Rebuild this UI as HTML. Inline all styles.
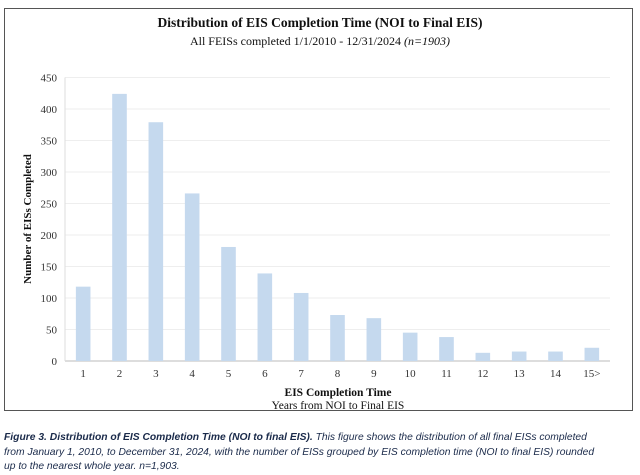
<!DOCTYPE html>
<html><head><meta charset="utf-8"><style>
body{margin:0;background:#fff;width:640px;height:470px;overflow:hidden;position:relative;font-family:"Liberation Serif",serif}
.frame{position:absolute;left:4px;top:8px;width:629px;height:403px;border:1.5px solid #555;box-sizing:border-box}
.cap{position:absolute;left:4px;top:431px;width:640px;font-family:"Liberation Sans",sans-serif;font-style:italic;font-size:10.3px;line-height:14.5px;color:#1a2a4a;white-space:nowrap}
</style></head><body>
<div class="frame"></div>
<svg width="640" height="470" style="position:absolute;left:0;top:0">
<text x="320" y="27" text-anchor="middle" font-weight="bold" font-size="13.5" fill="#111">Distribution of EIS Completion Time (NOI to Final EIS)</text>
<text x="320" y="45" text-anchor="middle" font-size="12" fill="#111">All FEISs completed 1/1/2010 - 12/31/2024 <tspan font-style="italic">(n=1903)</tspan></text>
<g id="grid"></g><g id="bars"></g><g id="ticks"></g>
<text transform="translate(31,219) rotate(-90)" text-anchor="middle" font-weight="bold" font-size="11" fill="#111">Number of EISs Completed</text>
<text x="338" y="396" text-anchor="middle" font-weight="bold" font-size="11.5" fill="#111">EIS Completion Time</text>
<text x="338" y="409" text-anchor="middle" font-size="11.5" fill="#111">Years from NOI to Final EIS</text>
</svg>
<div class="cap"><b>Figure 3. Distribution of EIS Completion Time (NOI to final EIS).</b> This figure shows the distribution of all final EISs completed<br>from January 1, 2010, to December 31, 2024, with the number of EISs grouped by EIS completion time (NOI to final EIS) rounded<br>up to the nearest whole year. n=1,903.</div>
<script>
const categories=["1","2","3","4","5","6","7","8","9","10","11","12","13","14","15>"];
const values=[118,424,379,266,181,139,108,73,68,45,38,13,15,15,21];
const yTicks=[0,50,100,150,200,250,300,350,400,450];
const NS="http://www.w3.org/2000/svg";
const x0=65,x1=610,y0=361,y1=77.5,ymax=450;
const step=(x1-x0)/categories.length;
const ys=v=>y0-(v/ymax)*(y0-y1);
const xc=i=>x0+step*(i+0.5);
function mk(t,a,p){const e=document.createElementNS(NS,t);for(const k in a)e.setAttribute(k,a[k]);p.appendChild(e);return e;}
const g=document.getElementById('grid'),b=document.getElementById('bars'),tk=document.getElementById('ticks');
yTicks.forEach(v=>{
 const l=mk('line',{x1:x0,x2:x1,y1:ys(v),y2:ys(v),stroke:v===0?'#bbb':'#eee','stroke-width':1},g);
 
 
 const t=mk('text',{x:57,y:ys(v)+4,'text-anchor':'end','font-size':11,fill:'#333'},tk);
 t.textContent=v;
 
 
});
mk('line',{x1:x0,x2:x0,y1:y1,y2:y0,stroke:'#ddd'},g);
categories.forEach((c,i)=>{
 const r=mk('rect',{x:xc(i)-7.3,y:ys(values[i]),width:14.6,height:y0-ys(values[i]),fill:'#c5d9ee'},b);
 
 
 const t=mk('text',{x:xc(i),y:377,'text-anchor':'middle','font-size':11,fill:'#333'},tk);
 t.textContent=c;
 
 
});
</script>
</body></html>
